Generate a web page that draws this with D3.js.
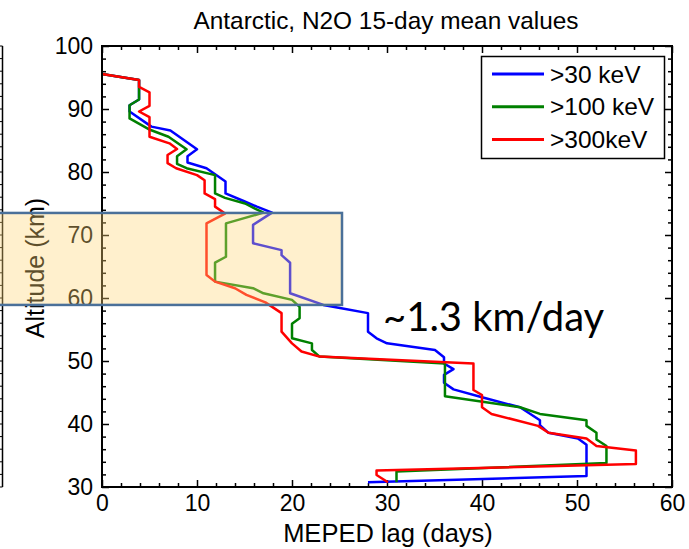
<!DOCTYPE html>
<html>
<head>
<meta charset="utf-8">
<script src="https://cdn.jsdelivr.net/npm/d3@7"></script>
<style>
  html, body { margin: 0; padding: 0; background: #fff; }
  svg { display: block; }
  text { font-family: "Liberation Sans", Arial, sans-serif; fill: #000; }
</style>
</head>
<body>
<svg id="chart" width="689" height="549"></svg>
<script>
// Profile vertices (altitude in km, lag in days), from the top of the profile down
const alt30keV = [95.55, 94.6, 91.5, 90.6, 89.6, 87.2, 86.6, 83.6, 82.5, 81.5, 80.6, 78.5, 76.6, 75.4, 74.5, 73.55, 71.6, 68.7, 67.6, 66.8, 65.6, 60.75, 58.9, 58.4, 57.6, 54.65, 53.6, 52.8, 51.75, 50.6, 49.6, 48.7, 47.8, 46.55, 45.5, 44.2, 42.65, 40.6, 39.8, 38.6, 37.7, 36.7, 31.75, 30.75];
const lag30keV = [0, 3.9, 3.9, 2.9, 2.9, 5.2, 7.2, 10.0, 9.0, 9.0, 11.0, 13.0, 13.0, 14.9, 16.3, 17.9, 15.9, 15.9, 18.9, 18.9, 19.8, 19.8, 23.3, 25.05, 28.0, 28.0, 28.9, 30.0, 35.05, 36.0, 36.0, 37.0, 36.0, 36.0, 37.0, 40.1, 44.0, 46.1, 46.1, 47.0, 50.1, 51.0, 51.0, 28.0];

const alt100keV = [95.55, 94.6, 91.5, 90.6, 88.5, 86.7, 85.6, 83.6, 82.5, 81.3, 80.6, 79.5, 76.6, 75.9, 75.0, 74.2, 73.55, 71.85, 66.55, 65.6, 62.6, 61.55, 60.75, 59.7, 58.6, 56.8, 55.9, 53.6, 52.8, 51.75, 50.7, 49.6, 44.4, 42.65, 41.6, 40.6, 39.7, 38.6, 37.55, 36.5, 33.8, 32.45, 30.75];
const lag100keV = [0, 3.9, 3.9, 2.9, 2.9, 5.05, 7.0, 8.9, 7.9, 7.9, 8.9, 11.9, 11.9, 12.95, 15.05, 16.1, 17.0, 13.05, 13.05, 11.9, 11.9, 15.9, 17.0, 20.0, 20.8, 20.8, 20.0, 20.0, 22.1, 22.1, 22.9, 36.1, 36.1, 44.0, 46.1, 51.0, 51.0, 52.05, 52.05, 53.1, 53.1, 31.0, 31.0];

const alt300keV = [95.55, 94.6, 93.5, 92.65, 90.5, 89.6, 88.7, 85.6, 84.55, 83.65, 82.7, 81.4, 80.6, 79.5, 78.7, 76.6, 75.7, 74.5, 73.4, 71.85, 63.65, 62.6, 61.55, 60.5, 59.3, 57.6, 54.65, 52.8, 51.5, 50.7, 49.6, 45.4, 44.6, 42.65, 41.6, 39.7, 38.6, 37.7, 36.5, 35.8, 33.65, 32.6, 31.9, 30.75];
const lag300keV = [0, 3.9, 3.9, 5.0, 5.0, 3.9, 5.0, 5.0, 7.1, 7.9, 6.9, 6.9, 7.8, 10.0, 10.8, 10.8, 11.9, 11.9, 12.95, 11.0, 11.0, 11.9, 14.0, 15.2, 17.2, 18.9, 18.9, 20.0, 21.0, 22.9, 39.1, 39.1, 40.0, 40.0, 41.0, 45.9, 47.0, 51.0, 52.05, 56.2, 56.2, 28.9, 28.9, 30.1];

const seriesNames = [">30 keV", ">100 keV", ">300keV"];
const seriesColors = ["#0000ff", "#008000", "#ff0000"];

const xTicks = [0, 10, 20, 30, 40, 50, 60];
const yTicks = [30, 40, 50, 60, 70, 80, 90, 100];

const titleText = "Antarctic, N2O 15-day mean values";
const xTitle = "MEPED lag (days)";
const yTitle = "Altitude (km)";
const rateLabel = "~1.3 km/day";
const bandAltitudes = [58.9, 73.5]; // highlighted altitude band

const svg = d3.select("#chart");
const plotL = 102, plotR = 672, plotT = 46, plotB = 487;
const x = d3.scaleLinear().domain([0, 60]).range([plotL, plotR]);
const y = d3.scaleLinear().domain([30, 100]).range([plotB, plotT]);

const xMinor = d3.range(0, 61, 2).filter(v => v % 10 !== 0);
const yMinor = d3.range(30, 101, 2).filter(v => v % 10 !== 0);

// Edge of the neighbouring panel on the left
const edge = svg.append("g");
edge.append("line").attr("x1", 2.5).attr("x2", 2.5).attr("y1", plotT).attr("y2", plotB)
  .attr("stroke", "#000").attr("stroke-width", 1.5);
edge.selectAll("line.t").data(d3.range(30, 101, 2)).join("line").attr("class", "t")
  .attr("x1", 0).attr("x2", 2.5).attr("y1", d => y(d)).attr("y2", d => y(d))
  .attr("stroke", "#000").attr("stroke-width", 1);

// Axes: labelled majors on bottom/left, inward ticks on all four sides
function styleAxis(g) {
  g.select(".domain").remove();
  g.selectAll(".tick line").attr("stroke", "#000").attr("stroke-width", 1.5);
  g.selectAll("text").style("font-size", "23px").attr("fill", "#000");
}
svg.append("g").attr("transform", `translate(0,${plotB})`)
  .call(d3.axisBottom(x).tickValues(xTicks).tickSize(-7).tickPadding(8).tickFormat(d3.format("d")))
  .call(styleAxis);
svg.append("g").attr("transform", `translate(0,${plotB})`)
  .call(d3.axisBottom(x).tickValues(xMinor).tickSize(-4).tickFormat(""))
  .call(styleAxis);
svg.append("g").attr("transform", `translate(0,${plotT})`)
  .call(d3.axisTop(x).tickValues(xTicks).tickSize(-7).tickFormat(""))
  .call(styleAxis);
svg.append("g").attr("transform", `translate(0,${plotT})`)
  .call(d3.axisTop(x).tickValues(xMinor).tickSize(-4).tickFormat(""))
  .call(styleAxis);
svg.append("g").attr("transform", `translate(${plotL},0)`)
  .call(d3.axisLeft(y).tickValues(yTicks).tickSize(-7).tickPadding(9).tickFormat(d3.format("d")))
  .call(styleAxis);
svg.append("g").attr("transform", `translate(${plotL},0)`)
  .call(d3.axisLeft(y).tickValues(yMinor).tickSize(-4).tickFormat(""))
  .call(styleAxis);
svg.append("g").attr("transform", `translate(${plotR},0)`)
  .call(d3.axisRight(y).tickValues(yTicks).tickSize(-7).tickFormat(""))
  .call(styleAxis);
svg.append("g").attr("transform", `translate(${plotR},0)`)
  .call(d3.axisRight(y).tickValues(yMinor).tickSize(-4).tickFormat(""))
  .call(styleAxis);

// Profiles
const profiles = [
  alt30keV.map((a, i) => [lag30keV[i], a]),
  alt100keV.map((a, i) => [lag100keV[i], a]),
  alt300keV.map((a, i) => [lag300keV[i], a])
];
const line = d3.line().x(d => x(d[0])).y(d => y(d[1]));
svg.append("g").selectAll("path").data(profiles).join("path")
  .attr("d", line)
  .attr("fill", "none")
  .attr("stroke", (d, i) => seriesColors[i])
  .attr("stroke-width", 2.5)
  .attr("stroke-linejoin", "round");

// Plot frame
svg.append("rect").attr("x", plotL).attr("y", plotT)
  .attr("width", plotR - plotL).attr("height", plotB - plotT)
  .attr("fill", "none").attr("stroke", "#000").attr("stroke-width", 2);

// Title and axis titles
svg.append("text").attr("x", 386).attr("y", 29).attr("text-anchor", "middle")
  .style("font-size", "24.4px").text(titleText);
svg.append("text").attr("x", 388).attr("y", 542).attr("text-anchor", "middle")
  .style("font-size", "25.5px").text(xTitle);
svg.append("text").attr("transform", "translate(44,268) rotate(-90)")
  .attr("text-anchor", "middle").style("font-size", "25px").text(yTitle);

// Legend
const legend = svg.append("g");
legend.append("rect").attr("x", 481.5).attr("y", 56.5).attr("width", 183).attr("height", 102)
  .attr("fill", "#fff").attr("stroke", "#000").attr("stroke-width", 1.5);
const rows = legend.selectAll("g.row").data(seriesNames).join("g").attr("class", "row")
  .attr("transform", (d, i) => `translate(0,${74 + i * 32.7})`);
rows.append("line").attr("x1", 492).attr("x2", 544).attr("y1", 0).attr("y2", 0)
  .attr("stroke", (d, i) => seriesColors[i]).attr("stroke-width", 3);
rows.append("text").attr("x", 550).attr("y", 0).attr("dy", "0.35em")
  .style("font-size", "24.5px").text(d => d);

// Highlighted altitude band
svg.append("rect")
  .attr("x", -5).attr("y", y(bandAltitudes[1]))
  .attr("width", 342 + 5).attr("height", y(bandAltitudes[0]) - y(bandAltitudes[1]))
  .attr("fill", "rgb(255,214,120)").attr("fill-opacity", 0.37)
  .attr("stroke", "#4a7099").attr("stroke-width", 2.5);

// Descent-rate annotation
svg.append("text").attr("x", 383).attr("y", 331)
  .style("font-family", "Lato, 'Open Sans', sans-serif").style("font-size", "40px")
  .text(rateLabel);
</script>
</body>
</html>
